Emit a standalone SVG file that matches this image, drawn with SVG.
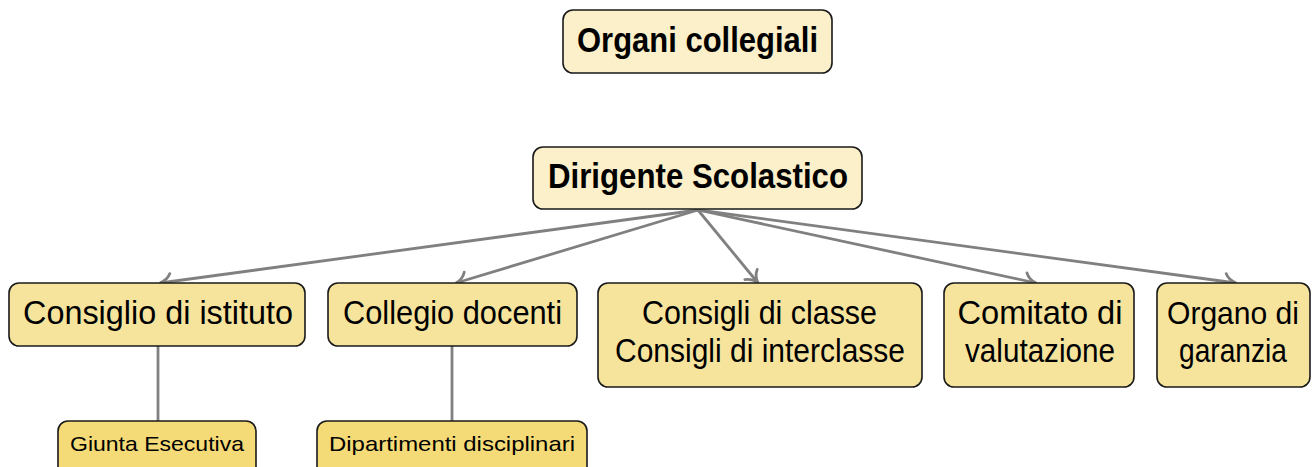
<svg xmlns="http://www.w3.org/2000/svg" width="1312" height="467" viewBox="0 0 1312 467">
  <style>
    .box { stroke: #1a1a1a; stroke-width: 1.6; }
    .top { fill: #FBF0C9; }
    .mid { fill: #F6E49D; }
    .low { fill: #F4DB77; }
    text { font-family: "Liberation Sans", Arial, sans-serif; fill: #000; text-anchor: middle; }
    .b { font-weight: bold; font-size: 35px; }
    .m { font-size: 34px; }
    .s { font-size: 21px; }
    .conn { stroke: #808080; stroke-width: 2.8; fill: none; }
  </style>
  <defs>
    <marker id="to" markerUnits="userSpaceOnUse" viewBox="-14 -10 16 20" refX="0" refY="0" markerWidth="16" markerHeight="20" orient="auto">
      <path d="M-11,-8 C-8,-2.5 -2.5,-0.6 0,0 C-2.5,0.6 -8,2.5 -11,8" fill="none" stroke="#808080" stroke-width="2.8" stroke-linecap="round"/>
    </marker>
  </defs>
  <rect width="1312" height="467" fill="#ffffff"/>
  <g id="connectors">
    <line class="conn" x1="698" y1="210" x2="160" y2="283" marker-end="url(#to)"/>
    <line class="conn" x1="698" y1="210" x2="456" y2="283" marker-end="url(#to)"/>
    <line class="conn" x1="698" y1="210" x2="758" y2="283" marker-end="url(#to)"/>
    <line class="conn" x1="698" y1="210" x2="1036" y2="283" marker-end="url(#to)"/>
    <line class="conn" x1="698" y1="210" x2="1236" y2="283" marker-end="url(#to)"/>
    <line class="conn" x1="158" y1="346" x2="158" y2="421"/>
    <line class="conn" x1="452" y1="346" x2="452" y2="421"/>
  </g>
  <g id="organi">
    <rect class="box top" x="563" y="10" width="269" height="63" rx="10"/>
    <text class="b" x="697.5" y="52" textLength="241" lengthAdjust="spacingAndGlyphs">Organi collegiali</text>
  </g>
  <g id="dirigente">
    <rect class="box top" x="533" y="147" width="329" height="62" rx="10"/>
    <text class="b" x="698" y="188" textLength="300" lengthAdjust="spacingAndGlyphs">Dirigente Scolastico</text>
  </g>
  <g id="consiglio-istituto">
    <rect class="box mid" x="9" y="283" width="296" height="63" rx="10"/>
    <text class="m" x="158" y="324" textLength="270" lengthAdjust="spacingAndGlyphs">Consiglio di istituto</text>
  </g>
  <g id="collegio-docenti">
    <rect class="box mid" x="328" y="283" width="249" height="63" rx="10"/>
    <text class="m" x="452.5" y="324" textLength="219" lengthAdjust="spacingAndGlyphs">Collegio docenti</text>
  </g>
  <g id="consigli-classe">
    <rect class="box mid" x="598" y="283" width="324" height="104" rx="10"/>
    <text class="m" x="759.5" y="324" textLength="235" lengthAdjust="spacingAndGlyphs">Consigli di classe</text>
    <text class="m" x="760" y="362" textLength="290" lengthAdjust="spacingAndGlyphs">Consigli di interclasse</text>
  </g>
  <g id="comitato">
    <rect class="box mid" x="944" y="283" width="190" height="104" rx="10"/>
    <text class="m" x="1040" y="324" textLength="165" lengthAdjust="spacingAndGlyphs">Comitato di</text>
    <text class="m" x="1040" y="362" textLength="150" lengthAdjust="spacingAndGlyphs">valutazione</text>
  </g>
  <g id="organo-garanzia">
    <rect class="box mid" x="1157" y="283" width="153" height="104" rx="10"/>
    <text x="1233" y="324" font-size="32" textLength="132" lengthAdjust="spacingAndGlyphs">Organo di</text>
    <text class="m" x="1233" y="362" textLength="108" lengthAdjust="spacingAndGlyphs">garanzia</text>
  </g>
  <g id="giunta">
    <rect class="box low" x="58" y="421" width="198" height="60" rx="10"/>
    <text class="s" x="157" y="451" textLength="174" lengthAdjust="spacingAndGlyphs">Giunta Esecutiva</text>
  </g>
  <g id="dipartimenti">
    <rect class="box low" x="317" y="421" width="270" height="60" rx="10"/>
    <text class="s" x="452" y="451" textLength="246" lengthAdjust="spacingAndGlyphs">Dipartimenti disciplinari</text>
  </g>
</svg>
